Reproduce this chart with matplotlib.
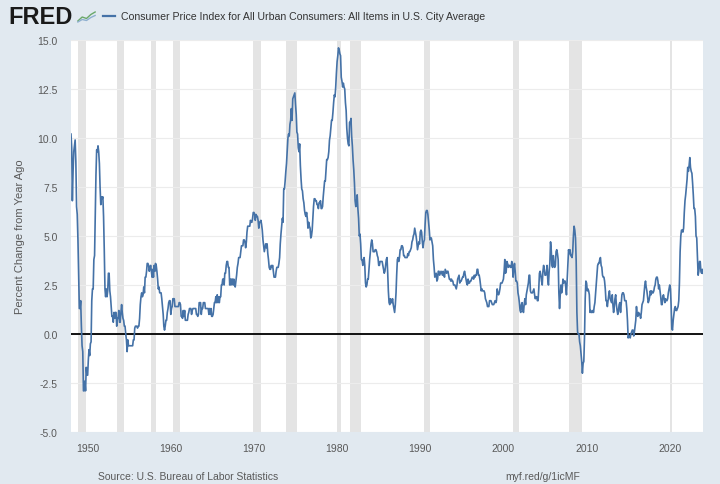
import matplotlib.pyplot as plt
import matplotlib.dates as mdates
import pandas as pd

# CPI-U, percent change from year ago, monthly from Jan 1948
START = "1948-01-01"
cpi_yoy = [
    10.2, 9.5, 6.8, 8.3, 9.3, 9.6, 9.9, 8.8, 6.5, 6.1, 4.8, 3.0,        # 1948
    1.3, 1.3, 1.7, 0.4, -0.6, -0.9, -2.9, -2.9, -2.4, -2.9, -1.7, -2.1,  # 1949
    -2.1, -1.3, -0.8, -1.1, -0.5, -0.4, 1.7, 2.3, 2.3, 3.8, 4.0, 5.9,    # 1950
    8.1, 9.4, 9.3, 9.6, 9.3, 8.7, 7.5, 6.6, 7.0, 6.9, 7.0, 6.0,          # 1951
    4.3, 2.3, 1.9, 2.3, 1.9, 2.2, 3.1, 3.1, 2.2, 1.9, 1.4, 0.9,          # 1952
    0.9, 0.6, 1.1, 0.8, 1.1, 1.1, 0.4, 0.8, 0.8, 1.2, 0.6, 0.6,          # 1953
    1.1, 1.5, 1.1, 0.8, 0.7, 0.4, 0.4, 0.0, -0.3, -0.9, -0.3, -0.6,      # 1954
    -0.6, -0.6, -0.6, -0.6, -0.6, -0.6, -0.3, -0.3, 0.3, 0.4, 0.4, 0.4,  # 1955
    0.3, 0.4, 0.4, 0.8, 1.5, 1.9, 2.1, 1.9, 2.0, 2.4, 2.1, 2.9,          # 1956
    2.9, 3.2, 3.6, 3.6, 3.5, 3.2, 3.4, 3.5, 3.2, 2.9, 3.3, 2.9,          # 1957
    3.5, 3.2, 3.6, 3.5, 3.2, 2.8, 2.3, 2.4, 2.1, 2.1, 2.1, 1.8,          # 1958
    1.4, 1.0, 0.4, 0.2, 0.4, 0.7, 0.7, 1.1, 1.3, 1.6, 1.7, 1.7,          # 1959
    1.0, 1.3, 1.4, 1.8, 1.8, 1.8, 1.4, 1.4, 1.4, 1.4, 1.4, 1.4,          # 1960
    1.6, 1.6, 1.5, 0.9, 0.9, 0.8, 1.2, 0.9, 1.2, 0.7, 0.7, 0.7,          # 1961
    0.7, 1.0, 1.1, 1.3, 1.3, 1.3, 1.0, 1.2, 1.3, 1.3, 1.3, 1.3,          # 1962
    1.3, 1.0, 1.0, 0.9, 1.0, 1.6, 1.6, 1.6, 1.0, 1.3, 1.3, 1.6,          # 1963
    1.6, 1.6, 1.3, 1.3, 1.3, 1.3, 1.3, 1.0, 1.3, 1.0, 1.3, 0.9,          # 1964
    0.9, 1.0, 1.3, 1.6, 1.6, 1.9, 1.6, 2.0, 1.6, 1.9, 1.6, 1.9,          # 1965
    1.9, 2.5, 2.5, 2.8, 2.8, 2.5, 3.1, 3.1, 3.5, 3.7, 3.7, 3.4,          # 1966
    3.4, 2.5, 2.8, 2.5, 2.8, 2.8, 2.5, 2.8, 2.5, 2.4, 2.7, 3.0,          # 1967
    3.4, 3.6, 3.9, 3.9, 3.9, 4.2, 4.5, 4.5, 4.5, 4.8, 4.8, 4.7,          # 1968
    4.4, 4.7, 5.2, 5.5, 5.5, 5.5, 5.5, 5.8, 5.7, 5.7, 5.9, 6.2,          # 1969
    6.2, 6.1, 5.8, 6.1, 6.0, 6.0, 5.8, 5.4, 5.7, 5.7, 5.8, 5.6,          # 1970
    5.3, 4.8, 4.5, 4.2, 4.4, 4.6, 4.4, 4.6, 4.1, 3.8, 3.4, 3.3,          # 1971
    3.3, 3.5, 3.4, 3.5, 3.2, 2.9, 2.9, 2.9, 3.2, 3.4, 3.4, 3.4,          # 1972
    3.6, 3.9, 4.6, 5.1, 5.5, 5.9, 5.7, 7.4, 7.4, 7.8, 8.3, 8.7,          # 1973
    9.4, 10.0, 10.2, 10.1, 10.7, 10.9, 11.5, 10.9, 12.0, 12.1, 12.2, 12.3,  # 1974
    11.7, 11.2, 10.3, 10.2, 9.5, 9.3, 9.7, 8.6, 7.9, 7.4, 7.3, 6.9,      # 1975
    6.7, 6.3, 6.1, 6.0, 6.2, 5.9, 5.4, 5.7, 5.5, 5.4, 4.9, 5.0,          # 1976
    5.3, 5.9, 6.5, 6.9, 6.9, 6.8, 6.8, 6.6, 6.6, 6.4, 6.7, 6.7,          # 1977
    6.8, 6.4, 6.4, 6.5, 7.0, 7.4, 7.8, 7.8, 8.4, 8.9, 8.9, 9.0,          # 1978
    9.3, 9.9, 10.1, 10.5, 10.9, 10.9, 11.3, 11.8, 12.2, 12.1, 12.6, 13.3,  # 1979
    13.9, 14.2, 14.6, 14.5, 14.3, 14.2, 13.1, 12.9, 12.6, 12.8, 12.6, 12.5,  # 1980
    11.8, 11.4, 10.5, 10.0, 9.7, 9.6, 10.8, 10.8, 11.0, 10.1, 9.6, 8.9,  # 1981
    8.4, 7.7, 6.8, 6.5, 6.7, 7.1, 6.4, 5.9, 5.0, 5.1, 4.6, 3.8,          # 1982
    3.8, 3.5, 3.6, 3.9, 3.5, 2.6, 2.4, 2.5, 2.8, 2.8, 3.3, 3.8,          # 1983
    4.2, 4.6, 4.8, 4.6, 4.2, 4.2, 4.2, 4.3, 4.3, 4.2, 4.0, 3.9,          # 1984
    3.5, 3.5, 3.7, 3.7, 3.7, 3.7, 3.5, 3.3, 3.1, 3.2, 3.5, 3.8,          # 1985
    3.9, 3.1, 2.2, 1.6, 1.5, 1.8, 1.6, 1.6, 1.8, 1.5, 1.3, 1.1,          # 1986
    1.5, 2.1, 3.0, 3.8, 3.9, 3.7, 3.9, 4.3, 4.3, 4.5, 4.5, 4.4,          # 1987
    4.0, 4.0, 3.9, 3.9, 3.9, 3.9, 4.1, 4.0, 4.2, 4.2, 4.3, 4.4,          # 1988
    4.7, 4.8, 5.0, 5.1, 5.4, 5.2, 5.0, 4.7, 4.3, 4.5, 4.7, 4.6,          # 1989
    5.2, 5.3, 5.2, 4.7, 4.4, 4.7, 4.8, 5.6, 6.2, 6.3, 6.3, 6.1,          # 1990
    5.7, 5.3, 4.8, 4.9, 4.9, 4.7, 4.5, 3.8, 3.4, 2.9, 3.0, 3.1,          # 1991
    2.7, 2.8, 3.2, 3.2, 3.0, 3.1, 3.2, 3.1, 3.0, 3.2, 3.0, 2.9,          # 1992
    3.3, 3.2, 3.1, 3.2, 3.2, 3.0, 2.8, 2.8, 2.7, 2.8, 2.7, 2.7,          # 1993
    2.5, 2.5, 2.5, 2.4, 2.3, 2.5, 2.8, 2.9, 3.0, 2.6, 2.7, 2.7,          # 1994
    2.8, 2.9, 2.9, 3.1, 3.2, 3.0, 2.8, 2.6, 2.5, 2.8, 2.6, 2.6,          # 1995
    2.7, 2.7, 2.8, 2.9, 2.9, 2.8, 3.0, 2.9, 3.0, 3.0, 3.3, 3.3,          # 1996
    3.0, 3.0, 2.8, 2.5, 2.2, 2.3, 2.2, 2.2, 2.2, 2.1, 1.8, 1.7,          # 1997
    1.6, 1.4, 1.4, 1.4, 1.7, 1.7, 1.7, 1.6, 1.5, 1.5, 1.5, 1.6,          # 1998
    1.7, 1.6, 1.7, 2.3, 2.1, 2.0, 2.1, 2.3, 2.6, 2.6, 2.6, 2.7,          # 1999
    2.8, 3.2, 3.8, 3.1, 3.2, 3.7, 3.6, 3.4, 3.5, 3.5, 3.4, 3.4,          # 2000
    3.7, 3.5, 2.9, 3.3, 3.6, 3.2, 2.7, 2.7, 2.6, 2.1, 1.9, 1.6,          # 2001
    1.2, 1.1, 1.5, 1.6, 1.2, 1.1, 1.5, 1.8, 1.5, 2.0, 2.2, 2.4,          # 2002
    2.6, 3.0, 3.0, 2.2, 2.1, 2.1, 2.1, 2.2, 2.3, 2.0, 1.8, 1.9,          # 2003
    1.9, 1.7, 1.7, 2.3, 3.1, 3.2, 3.0, 2.7, 2.5, 3.2, 3.5, 3.3,          # 2004
    3.0, 3.0, 3.1, 3.5, 2.8, 2.5, 3.2, 3.6, 4.7, 4.3, 3.5, 3.4,          # 2005
    4.0, 3.6, 3.4, 3.5, 4.2, 4.3, 4.1, 3.8, 2.1, 1.3, 2.0, 2.5,          # 2006
    2.1, 2.4, 2.8, 2.6, 2.7, 2.7, 2.4, 2.0, 2.8, 3.5, 4.3, 4.1,          # 2007
    4.3, 4.0, 4.0, 3.9, 4.2, 5.0, 5.5, 5.3, 4.9, 3.7, 1.1, 0.1,          # 2008
    0.0, 0.0, -0.4, -0.6, -1.0, -1.4, -2.0, -1.5, -1.4, -0.2, 1.8, 2.7,  # 2009
    2.6, 2.2, 2.3, 2.2, 2.0, 1.1, 1.2, 1.1, 1.1, 1.2, 1.1, 1.4,          # 2010
    1.6, 2.1, 2.6, 3.1, 3.5, 3.6, 3.6, 3.8, 3.9, 3.5, 3.4, 3.0,          # 2011
    2.9, 2.9, 2.7, 2.3, 1.7, 1.7, 1.4, 1.7, 2.0, 2.2, 1.8, 1.7,          # 2012
    1.6, 2.0, 1.5, 1.1, 1.4, 1.8, 2.0, 1.5, 1.2, 1.0, 1.2, 1.5,          # 2013
    1.6, 1.1, 1.5, 2.0, 2.1, 2.1, 2.0, 1.7, 1.7, 1.7, 1.3, 0.7,          # 2014
    -0.2, -0.1, -0.1, -0.2, 0.0, 0.1, 0.2, 0.2, -0.1, 0.1, 0.4, 0.7,     # 2015
    1.4, 1.0, 0.9, 1.1, 1.0, 1.0, 0.8, 1.1, 1.5, 1.6, 1.7, 2.1,          # 2016
    2.5, 2.7, 2.4, 2.2, 1.9, 1.6, 1.7, 1.9, 2.2, 2.0, 2.2, 2.1,          # 2017
    2.1, 2.2, 2.4, 2.5, 2.8, 2.9, 2.9, 2.7, 2.3, 2.5, 2.2, 1.9,          # 2018
    1.5, 1.5, 1.9, 2.0, 1.8, 1.6, 1.8, 1.7, 1.7, 1.8, 2.1, 2.3,          # 2019
    2.5, 2.3, 1.5, 0.3, 0.2, 0.7, 1.0, 1.3, 1.4, 1.2, 1.2, 1.3,          # 2020
    1.4, 1.7, 2.6, 4.2, 5.0, 5.3, 5.3, 5.2, 5.4, 6.2, 6.8, 7.1,          # 2021
    7.5, 7.9, 8.5, 8.3, 8.6, 9.0, 8.5, 8.3, 8.2, 7.7, 7.1, 6.4,          # 2022
    6.4, 6.0, 5.0, 4.9, 4.0, 3.0, 3.2, 3.7, 3.7, 3.2, 3.1, 3.3,          # 2023
    3.1,                                                                 # 2024
]

# NBER recessions (start, end)
recession_start = ["1948-11-01", "1953-07-01", "1957-08-01", "1960-04-01", "1969-12-01",
                   "1973-11-01", "1980-01-01", "1981-07-01", "1990-07-01", "2001-03-01",
                   "2007-12-01", "2020-02-01"]
recession_end = ["1949-10-01", "1954-05-01", "1958-04-01", "1961-02-01", "1970-11-01",
                 "1975-03-01", "1980-07-01", "1982-11-01", "1991-03-01", "2001-11-01",
                 "2009-06-01", "2020-04-01"]

y_ticks = [-5.0, -2.5, 0.0, 2.5, 5.0, 7.5, 10.0, 12.5, 15.0]
x_tick_years = [1950, 1960, 1970, 1980, 1990, 2000, 2010, 2020]

TITLE = "Consumer Price Index for All Urban Consumers: All Items in U.S. City Average"
BG = "#e1e9f0"
LINE = "#4572a7"
TXT = "#595959"

plt.rcParams["font.family"] = ["Liberation Sans", "DejaVu Sans"]

dates = pd.date_range(START, periods=len(cpi_yoy), freq="MS")

fig = plt.figure(figsize=(7.2, 4.85), dpi=100, facecolor=BG)
ax = fig.add_axes([71 / 720, 52 / 485, 632 / 720, 392 / 485])
ax.set_facecolor("white")

for s, e in zip(recession_start, recession_end):
    ax.axvspan(pd.Timestamp(s), pd.Timestamp(e), color="#e4e4e4", lw=0, zorder=0)

for yv in y_ticks:
    ax.axhline(yv, color="#ececec", lw=0.8, zorder=0.5)
ax.axhline(0, color="black", lw=1.3, zorder=2)

ax.plot(dates, cpi_yoy, color=LINE, lw=1.2, zorder=3)

ax.set_xlim(dates[0], dates[-1])
ax.set_ylim(-5, 15)
ax.set_yticks(y_ticks)
ax.set_yticklabels([f"{v:.1f}" for v in y_ticks])
ax.set_xticks([pd.Timestamp(f"{y}-01-01") for y in x_tick_years])
ax.xaxis.set_major_formatter(mdates.DateFormatter("%Y"))
ax.tick_params(length=0, labelsize=7.5, colors=TXT)
ax.tick_params(axis="y", pad=9.5)
ax.tick_params(axis="x", pad=8)
for sp in ax.spines.values():
    sp.set_visible(False)
ax.set_ylabel("Percent Change from Year Ago", fontsize=8, color=TXT, labelpad=9)

# header: FRED logo + legend entry
fig.text(8 / 720, 1 - 17 / 485, "FRED", fontsize=17, fontweight="bold", color="#1a1a1a",
         va="center", ha="left")
icon = fig.add_axes([77 / 720, 1 - 25 / 485, 19 / 720, 14 / 485])
icon.plot([0, 1, 2, 3, 4], [0.1, 0.5, 0.35, 0.75, 1.0], color="#6aa86a", lw=1.0)
icon.plot([0, 1, 2, 3, 4], [0.0, 0.25, 0.15, 0.45, 0.65], color="#8fb0d0", lw=1.0)
icon.set_xlim(-0.2, 4.2)
icon.set_ylim(-0.2, 1.2)
icon.axis("off")
fig.add_artist(plt.Line2D([103 / 720, 115 / 720], [1 - 17 / 485, 1 - 17 / 485],
                          color=LINE, lw=1.6))
fig.text(121 / 720, 1 - 17 / 485, TITLE, fontsize=7.6, color="#333333", va="center", ha="left")

# footer
fig.text(98 / 720, 1 - 477 / 485, "Source: U.S. Bureau of Labor Statistics", fontsize=7.5,
         color=TXT, va="center", ha="left")
fig.text(505 / 720, 1 - 477 / 485, "myf.red/g/1icMF", fontsize=7.5, color=TXT,
         va="center", ha="left")

fig.savefig("out.png", dpi=100, facecolor=BG)
